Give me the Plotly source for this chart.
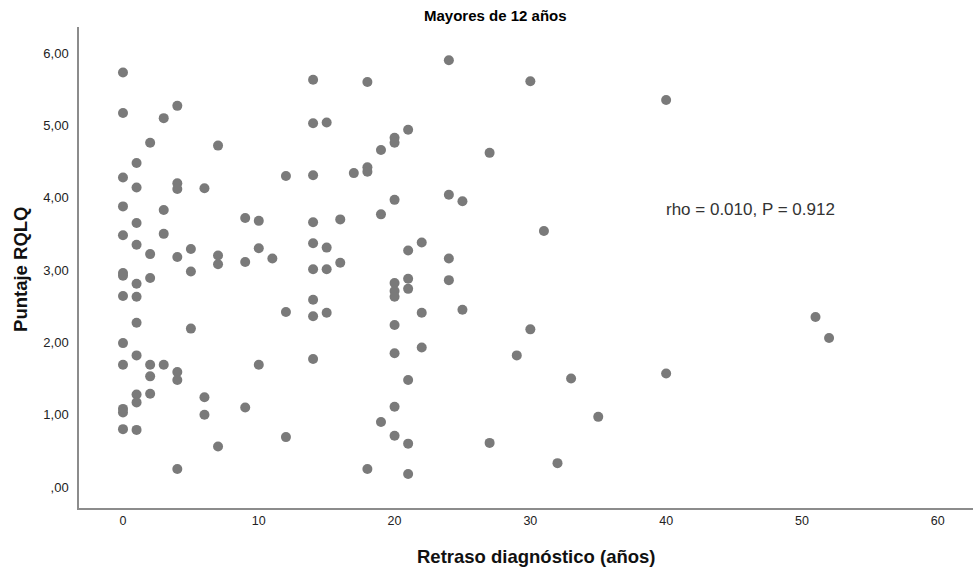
import plotly.graph_objects as go

retraso = [
    0, 0, 3, 4, 2, 7, 1, 0, 1, 4, 4, 6, 12, 14, 14, 14, 15,
    0, 3, 9, 10, 14, 1, 0, 3, 1, 14, 2, 5, 10, 4, 7, 11, 9, 7, 15,
    0, 0, 5, 14, 15, 1, 2, 0, 1, 14, 12, 14, 15, 1, 5, 0, 1, 0, 2, 3, 10, 14,
    4, 4, 2, 1, 1, 2, 6, 6, 9, 0, 0, 0, 1, 12, 7, 4,
    18, 24, 30, 21, 20, 20, 19, 27, 17, 18, 18, 20, 24, 25, 19, 16, 31,
    21, 22, 24, 16,
    20, 20, 20, 21, 21, 24, 22, 25, 20, 30, 22, 20, 29, 21, 33, 20, 35,
    19, 20, 21, 27, 32, 18, 21,
    40, 51, 52, 40,
]
puntaje = [
    5.73, 5.17, 5.10, 5.27, 4.76, 4.72, 4.48, 4.28, 4.14, 4.20, 4.12, 4.13, 4.30, 4.31, 5.63, 5.03, 5.04,
    3.88, 3.83, 3.72, 3.68, 3.66, 3.65, 3.48, 3.50, 3.35, 3.37, 3.22, 3.29, 3.30, 3.18, 3.20, 3.16, 3.11, 3.08, 3.31,
    2.96, 2.92, 2.98, 3.01, 3.01, 2.81, 2.89, 2.64, 2.63, 2.59, 2.42, 2.36, 2.41, 2.27, 2.19, 1.99, 1.82, 1.69, 1.69, 1.69, 1.69, 1.77,
    1.59, 1.48, 1.53, 1.28, 1.17, 1.29, 1.24, 1.00, 1.10, 1.08, 1.03, 0.80, 0.79, 0.69, 0.56, 0.25,
    5.60, 5.90, 5.61, 4.94, 4.83, 4.76, 4.66, 4.62, 4.34, 4.42, 4.36, 3.97, 4.04, 3.95, 3.77, 3.70, 3.54,
    3.27, 3.38, 3.16, 3.10,
    2.82, 2.71, 2.63, 2.88, 2.74, 2.86, 2.41, 2.45, 2.24, 2.18, 1.93, 1.85, 1.82, 1.48, 1.50, 1.11, 0.97,
    0.90, 0.71, 0.60, 0.61, 0.33, 0.25, 0.18,
    5.35, 2.35, 2.06, 1.57,
]

x_ticks = [0, 10, 20, 30, 40, 50, 60]
y_ticks = [0, 1, 2, 3, 4, 5, 6]
y_tick_labels = [",00", "1,00", "2,00", "3,00", "4,00", "5,00", "6,00"]

title_text = "Mayores de 12 años"
x_title = "Retraso diagnóstico (años)"
y_title = "Puntaje RQLQ"
stat_text = "rho = 0.010, P = 0.912"

FONT = "Arial, Liberation Sans, sans-serif"

fig = go.Figure()
fig.add_trace(go.Scatter(
    x=retraso, y=puntaje, mode="markers",
    marker=dict(size=10, color="#7a7a7a", line=dict(width=0)),
    showlegend=False, hoverinfo="x+y",
))

fig.add_annotation(
    x=39.84, y=3.84, xref="x", yref="y", text=stat_text, showarrow=False,
    xanchor="left", yanchor="middle", font=dict(family=FONT, size=17, color="#333333"),
)
fig.add_annotation(
    x=0.511, y=-0.10, xref="paper", yref="paper", text="<b>" + x_title + "</b>", showarrow=False,
    xanchor="center", yanchor="middle", font=dict(family=FONT, size=18.5, color="#111111"),
)
fig.add_annotation(
    x=-0.0649, y=0.497, xref="paper", yref="paper", text="<b>" + y_title + "</b>", showarrow=False,
    textangle=-90, xanchor="center", yanchor="middle", font=dict(family=FONT, size=18.5, color="#111111"),
)

fig.update_layout(
    width=975, height=575,
    margin=dict(l=79, r=2, t=27, b=67),
    paper_bgcolor="white", plot_bgcolor="white",
    title=dict(text="<b>" + title_text + "</b>", x=0.508, xanchor="center", y=0.972, yanchor="middle",
               font=dict(family=FONT, size=15, color="#000000")),
    font=dict(family=FONT, color="#333333"),
)
fig.update_xaxes(
    range=[-3.24, 62.6], tickvals=x_ticks, ticktext=[str(v) for v in x_ticks],
    showgrid=False, zeroline=False, showline=True, linecolor="#8c8c8c", linewidth=1.5,
    ticks="", tickfont=dict(family=FONT, size=12.5, color="#222222"),
)
fig.update_yaxes(
    range=[-0.29, 6.36], tickvals=y_ticks, ticktext=y_tick_labels,
    showgrid=False, zeroline=False, showline=True, linecolor="#8c8c8c", linewidth=1.5,
    ticks="", ticklabelstandoff=6, tickfont=dict(family=FONT, size=13, color="#222222"),
)

fig.write_html("out.html")
